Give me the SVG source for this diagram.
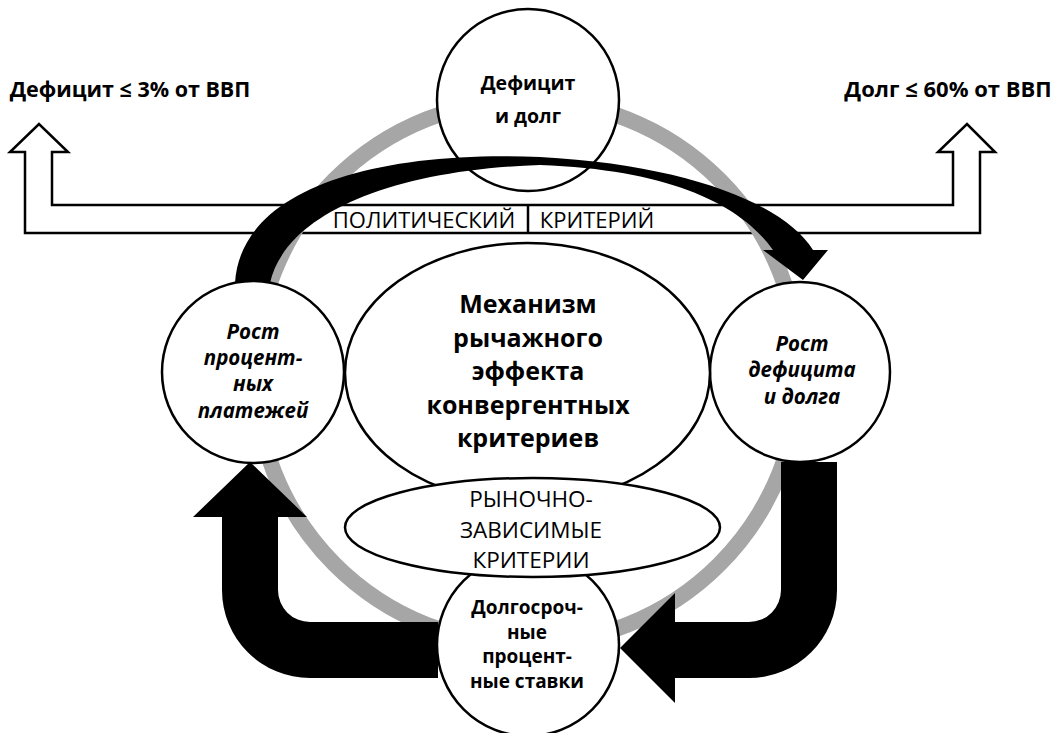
<svg xmlns="http://www.w3.org/2000/svg" width="1060" height="733" viewBox="0 0 1060 733">
<style>
.node{fill:#fff;stroke:#000;stroke-width:2.5}
.blk{fill:#000;stroke:none}
.t{font-family:"Open Sans","Noto Sans",sans-serif;fill:#000;text-anchor:middle}
.b{font-weight:bold}
.i{font-style:italic;font-weight:bold}
</style>
<rect width="1060" height="733" fill="#fff"/>
<g id="political-criterion">
<path d="M25,233 L25,152 L10,152 L39,124 L68,152 L52,152 L52,205 L953,205 L953,152 L938,152 L967,124 L995,152 L980,152 L980,233 Z" fill="#fff" stroke="#000" stroke-width="2.5"/>
<line x1="528" y1="205" x2="528" y2="233" stroke="#000" stroke-width="2.5"/>
<text class="t" x="424" y="228" font-size="22">ПОЛИТИЧЕСКИЙ</text>
<text class="t" x="597" y="228" font-size="22">КРИТЕРИЙ</text>
</g>
<g id="label-deficit"><text class="t b" x="130" y="97" font-size="21.5">Дефицит ≤ 3% от ВВП</text></g>
<g id="label-debt"><text class="t b" x="948" y="97" font-size="22">Долг ≤ 60% от ВВП</text></g>
<g id="ring"><circle cx="527" cy="372" r="272" fill="none" stroke="#a6a6a6" stroke-width="16"/></g>
<g id="node-top"><circle class="node" cx="528" cy="100" r="91"/>
<text class="t b" x="528" y="90" font-size="19.5">Дефицит</text>
<text class="t b" x="528" y="123" font-size="19.5">и долг</text></g>
<g id="connectors">
<path class="blk" d="M235,283 C240,195 360,150 540,157 C690,165 785,205 813,250 L828,250 L803,280 L763,250 L773,250 C745,210 680,170 540,165 C390,170 285,215 270,283 Z"/>
<path class="blk" d="M438,622 L310,622 A32,32 0 0 1 278,590 L278,517 L307,517 L250,462 L193,517 L222,517 L222,590 A88,88 0 0 0 310,678 L438,678 Z"/>
<path class="blk" d="M781,462 L837,462 L837,590 A88,88 0 0 1 749,678 L675,678 L675,703 L620,648 L675,593 L675,622 L749,622 A32,32 0 0 0 781,590 Z"/>
</g>
<g id="node-left"><circle class="node" cx="253" cy="372" r="91"/>
<text class="t i" x="253" y="339" font-size="20.5">Рост</text>
<text class="t i" x="253" y="365" font-size="20.5">процент-</text>
<text class="t i" x="253" y="391" font-size="20.5">ных</text>
<text class="t i" x="253" y="418" font-size="20.5">платежей</text></g>
<g id="node-right"><circle class="node" cx="800" cy="372" r="90"/>
<text class="t i" x="802" y="351" font-size="20.5">Рост</text>
<text class="t i" x="802" y="377" font-size="20.5">дефицита</text>
<text class="t i" x="802" y="404" font-size="20.5">и долга</text></g>
<g id="node-center"><ellipse class="node" cx="527.5" cy="373" rx="182.5" ry="130"/>
<text class="t b" x="528" y="313" font-size="25">Механизм</text>
<text class="t b" x="528" y="347" font-size="25">рычажного</text>
<text class="t b" x="528" y="380" font-size="25">эффекта</text>
<text class="t b" x="528" y="414" font-size="25">конвергентных</text>
<text class="t b" x="528" y="447" font-size="25">критериев</text></g>
<g id="node-bottom"><circle class="node" cx="528" cy="645" r="91"/>
<text class="t b" x="527" y="614" font-size="19">Долгосроч-</text>
<text class="t b" x="527" y="639" font-size="19">ные</text>
<text class="t b" x="527" y="663" font-size="19">процент-</text>
<text class="t b" x="527" y="688" font-size="19">ные ставки</text></g>
<g id="node-market"><ellipse class="node" cx="532.5" cy="527.5" rx="187.5" ry="49.5"/>
<text class="t" x="531" y="507" font-size="22.5">РЫНОЧНО-</text>
<text class="t" x="531" y="538" font-size="22.5">ЗАВИСИМЫЕ</text>
<text class="t" x="531" y="568" font-size="22.5">КРИТЕРИИ</text></g>
</svg>
